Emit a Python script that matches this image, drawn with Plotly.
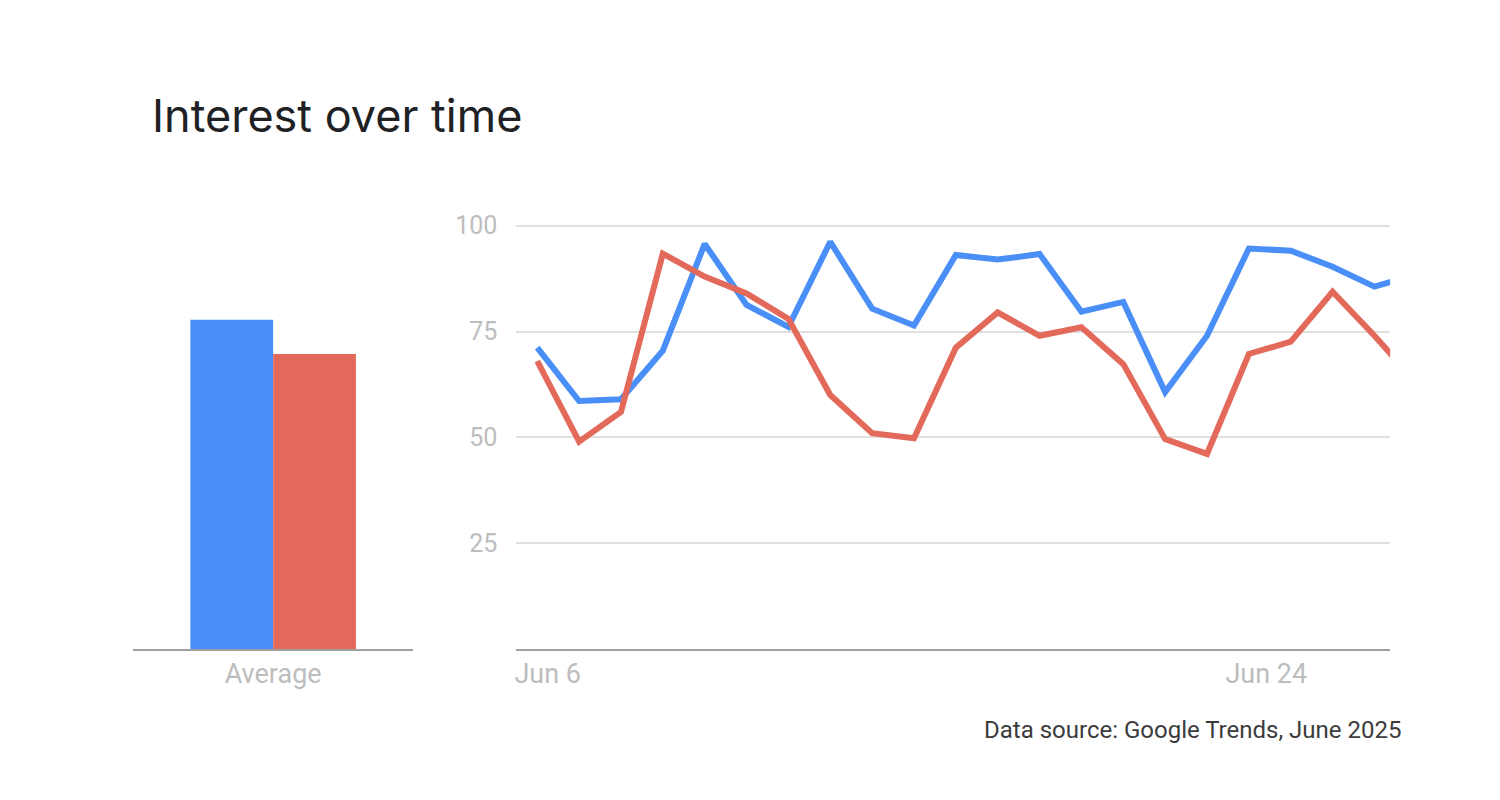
import plotly.graph_objects as go
import pandas as pd

### data (daily points, last one runs past the right edge)
dates = pd.date_range("2025-06-06", periods=22, freq="D")
blue_vals = [71.2, 58.6, 59.0, 70.5, 95.7, 81.3, 76.1, 96.2, 80.4, 76.4, 93.1,
             92.0, 93.3, 79.7, 82.0, 60.7, 74.0, 94.6, 94.1, 90.3, 85.6, 88.4]
red_vals = [68.0, 49.0, 56.0, 93.4, 88.0, 84.0, 78.0, 60.0, 51.0, 49.8, 71.2,
            79.5, 74.0, 76.0, 67.3, 49.6, 46.1, 69.7, 72.6, 84.4, 74.0, 63.0]

avg_labels = ["Average"]
blue_avg = [77.8]
red_avg = [69.7]

y_ticks = [25, 50, 75, 100]

BLUE = "#4A8FF7"
RED = "#E3695A"
GRID = "#e0e0e0"
AXIS = "#a0a0a0"
TICK = "#bdbdbd"

fig = go.Figure()

### average bars (left panel)
fig.add_trace(go.Bar(x=avg_labels, y=blue_avg, name="Blue term", marker_color=BLUE,
                     marker_line_width=0, xaxis="x2", yaxis="y2"))
fig.add_trace(go.Bar(x=avg_labels, y=red_avg, name="Red term", marker_color=RED,
                     marker_line_width=0, xaxis="x2", yaxis="y2"))

### interest over time lines (right panel)
fig.add_trace(go.Scatter(x=dates, y=blue_vals, mode="lines", name="Blue term",
                         line=dict(color=BLUE, width=6)))
fig.add_trace(go.Scatter(x=dates, y=red_vals, mode="lines", name="Red term",
                         line=dict(color=RED, width=6)))

y_dom = [0.1915, 0.7315]

fig.update_layout(
    width=1500, height=800,
    margin=dict(l=0, r=0, t=0, b=0),
    paper_bgcolor="white", plot_bgcolor="white",
    showlegend=False,
    font=dict(family="Roboto", color=TICK),
    barmode="group", bargap=0.41, bargroupgap=0,
    xaxis=dict(domain=[515 / 1500, 1390 / 1500], anchor="y",
               range=["2025-06-05 12:00", "2025-06-26 09:00"],
               tickvals=["2025-06-06 06:00", "2025-06-23 10:00"],
               ticktext=["Jun 6", "Jun 24"],
               showgrid=False, zeroline=False,
               showline=True, linecolor=AXIS, linewidth=2,
               ticks="", tickfont=dict(size=27, color=TICK)),
    yaxis=dict(domain=y_dom, range=[0, 100.5],
               tickvals=y_ticks, showgrid=True, gridcolor=GRID, gridwidth=1.5,
               zeroline=False, showline=False, ticks="",
               ticklabelstandoff=18,
               tickfont=dict(size=25, color=TICK)),
    xaxis2=dict(domain=[131 / 1500, 412 / 1500], anchor="y2",
                showgrid=False, zeroline=False,
                showline=True, linecolor=AXIS, linewidth=2,
                ticks="", tickfont=dict(size=27, color=TICK)),
    yaxis2=dict(domain=y_dom, range=[0, 100.5], anchor="x2",
                showgrid=False, zeroline=False, showline=False,
                showticklabels=False),
)

### title and source note
fig.add_annotation(text="Interest over time", xref="paper", yref="paper",
                   x=148 / 1500, y=0.8688, xanchor="left", yanchor="middle",
                   showarrow=False, font=dict(family="Inter", size=45, color="#202124"))
fig.add_annotation(text="Data source: Google Trends, June 2025", xref="paper", yref="paper",
                   x=1403 / 1500, y=0.0888, xanchor="right", yanchor="middle",
                   showarrow=False, font=dict(family="Roboto", size=24, color="#3c3c3c"))

### drop the default page margin so the figure sits at the window corner
fig.write_html("out.html", config={"displayModeBar": False},
               post_script="document.body.style.margin = '0';")
